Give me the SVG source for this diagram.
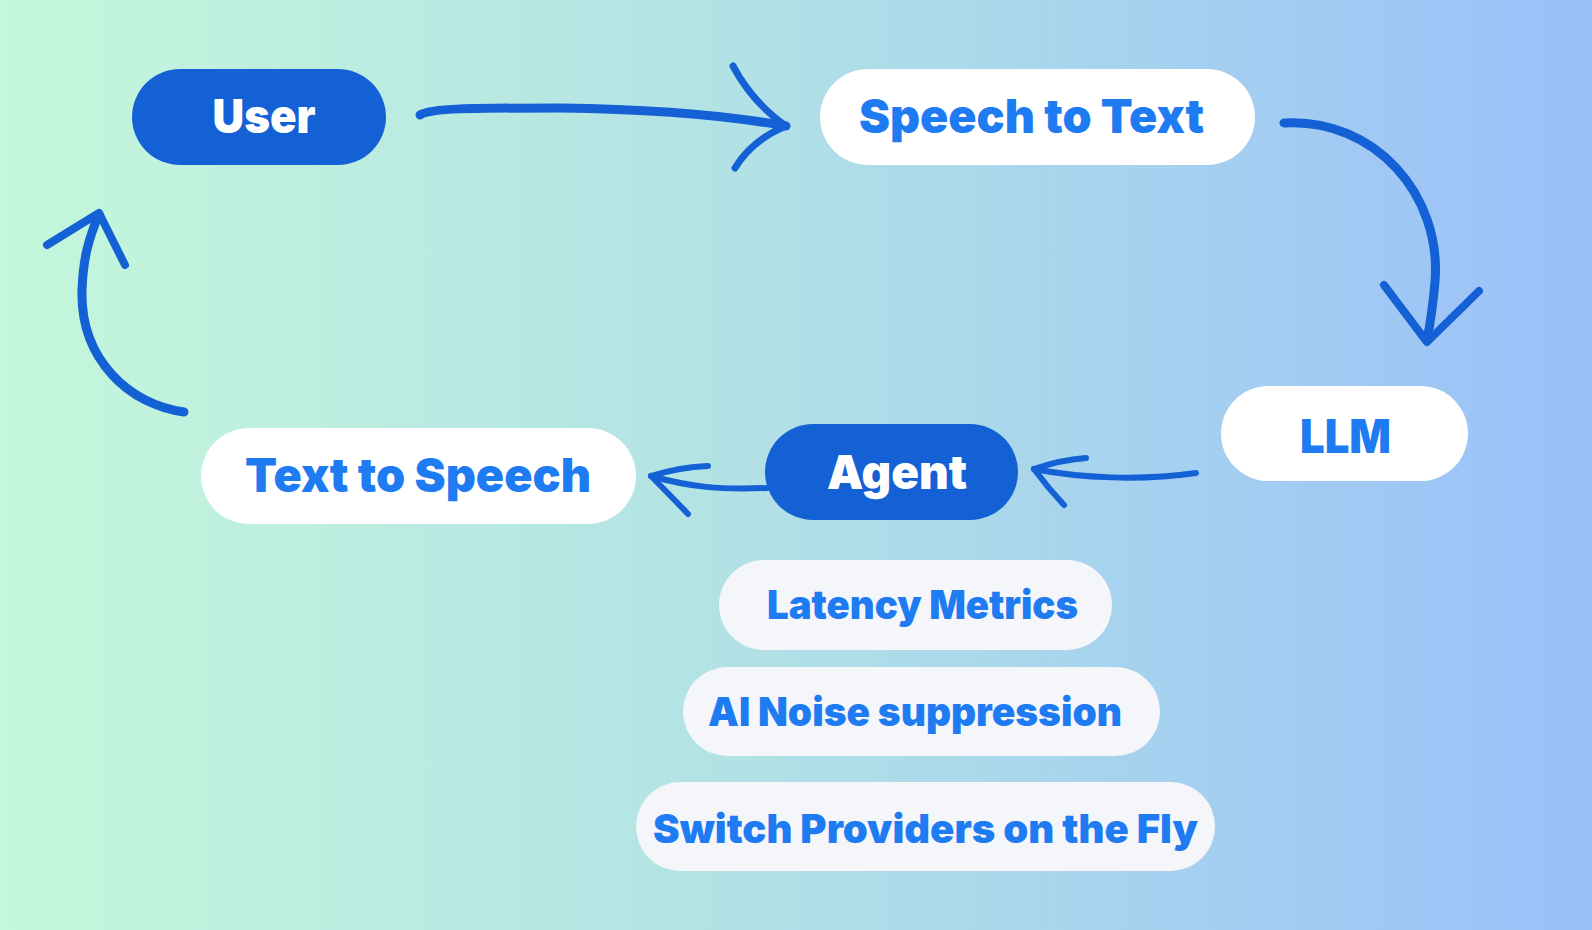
<svg xmlns="http://www.w3.org/2000/svg" width="1592" height="930" viewBox="0 0 1592 930">
<defs>
<linearGradient id="bg" x1="0" y1="0" x2="1" y2="0">
<stop offset="0" stop-color="#C5F7DB"/>
<stop offset="0.45" stop-color="#B3E2E5"/>
<stop offset="1" stop-color="#9AC0F9"/>
</linearGradient>
<style>
.dark{fill:#1461D6}
.white{fill:#FFFFFF}
.soft{fill:#F4F6FA}
.t{font-family:Inter,"Liberation Sans",sans-serif;font-weight:900;text-anchor:middle}
.tw{fill:#FFFFFF}
.tb{fill:#1E7BF1}
.arr{fill:none;stroke:#1461D6;stroke-linecap:round;stroke-linejoin:round}
</style>
</defs>
<rect x="0" y="0" width="1592" height="930" fill="url(#bg)"/>

<g id="connectors">
<g id="user-to-stt">
<path class="arr" stroke-width="9" d="M420,115 C430,108 470,108 560,108 C650,109 730,116 786,126"/>
<path class="arr" stroke-width="7" d="M733,66 Q752,102 786,126"/>
<path class="arr" stroke-width="7" d="M786,126 Q752,140 735,168"/>
</g>
<g id="stt-to-llm">
<path class="arr" stroke-width="9" d="M1284,123 C1375,118 1442,195 1435,282 Q1432,315 1427,340"/>
<path class="arr" stroke-width="8" d="M1384,285 L1427,342 L1479,291"/>
</g>
<g id="llm-to-agent">
<path class="arr" stroke-width="6" d="M1196,473 C1140,481 1080,478 1034,469"/>
<path class="arr" stroke-width="6" d="M1034,469 Q1060,460 1086,458"/>
<path class="arr" stroke-width="6" d="M1034,469 Q1048,488 1064,505"/>
</g>
<g id="agent-to-tts">
<path class="arr" stroke-width="6" d="M767,488 C720,490 690,487 651,476"/>
<path class="arr" stroke-width="6" d="M651,476 Q680,467 708,466"/>
<path class="arr" stroke-width="6" d="M651,476 Q670,495 688,514"/>
</g>
<g id="tts-to-user">
<path class="arr" stroke-width="9" d="M184,412 C130,405 80,360 82,290 C83,260 88,240 99,214"/>
<path class="arr" stroke-width="8" d="M47,245 L99,213 L125,265"/>
</g>
</g>

<g id="node-user">
<rect class="dark" x="132" y="69" width="254" height="96" rx="48"/>
<text class="t tw" x="264" y="133" font-size="47" textLength="103" lengthAdjust="spacingAndGlyphs">User</text>
</g>
<g id="node-stt">
<rect class="white" x="820" y="69" width="435" height="96" rx="48"/>
<text class="t tb" x="1031.5" y="133" font-size="47" textLength="345" lengthAdjust="spacingAndGlyphs">Speech to Text</text>
</g>
<g id="node-llm">
<rect class="white" x="1221" y="386" width="247" height="95" rx="47.5"/>
<text class="t tb" x="1345.5" y="453" font-size="47" textLength="91" lengthAdjust="spacingAndGlyphs">LLM</text>
</g>
<g id="node-agent">
<rect class="dark" x="765" y="424" width="253" height="96" rx="48"/>
<text class="t tw" x="897" y="489" font-size="47" textLength="140" lengthAdjust="spacingAndGlyphs">Agent</text>
</g>
<g id="node-tts">
<rect class="white" x="201" y="428" width="435" height="96" rx="48"/>
<text class="t tb" x="418" y="492" font-size="47" textLength="346" lengthAdjust="spacingAndGlyphs">Text to Speech</text>
</g>
<g id="node-latency">
<rect class="soft" x="719" y="560" width="393" height="90" rx="45"/>
<text class="t tb" x="922.5" y="619" font-size="40" textLength="311" lengthAdjust="spacingAndGlyphs">Latency Metrics</text>
</g>
<g id="node-noise">
<rect class="soft" x="683" y="667" width="477" height="89" rx="44.5"/>
<text class="t tb" x="915" y="726" font-size="40" textLength="414" lengthAdjust="spacingAndGlyphs">AI Noise suppression</text>
</g>
<g id="node-switch">
<rect class="soft" x="636" y="782" width="579" height="89" rx="44.5"/>
<text class="t tb" x="925.5" y="843" font-size="40" textLength="545" lengthAdjust="spacingAndGlyphs">Switch Providers on the Fly</text>
</g>
</svg>
